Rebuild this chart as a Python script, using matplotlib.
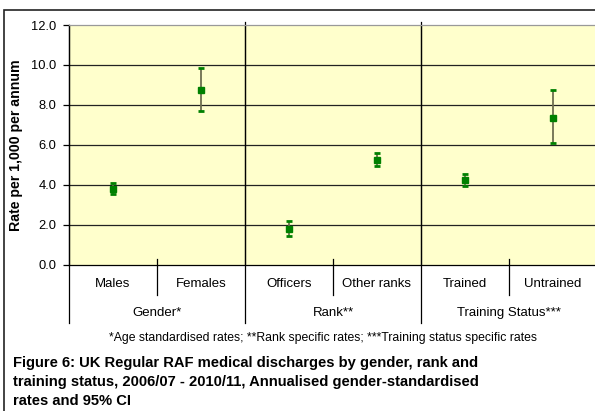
import numpy as np
import matplotlib.pyplot as plt
from matplotlib.patches import Rectangle

plt.rcParams['font.family'] = ['Liberation Sans', 'DejaVu Sans']

# data
categories = ['Males', 'Females', 'Officers', 'Other ranks', 'Trained', 'Untrained']
groups = ['Gender*', 'Rank**', 'Training Status***']
rates = [3.80, 8.73, 1.79, 5.25, 4.25, 7.34]
ci_low = [3.55, 7.72, 1.46, 4.92, 3.95, 6.09]
ci_high = [4.10, 9.86, 2.19, 5.60, 4.55, 8.75]
y_ticks = [0, 2, 4, 6, 8, 10, 12]

W, H = 595, 411
fig = plt.figure(figsize=(W / 100, H / 100), dpi=100)

# plot area in pixels
left, right, top, bottom = 69, 597, 25, 264.8
ax = fig.add_axes([left / W, 1 - bottom / H, (right - left) / W, (bottom - top) / H])
ax.set_facecolor('#FFFFCC')

x = np.arange(len(categories)) + 0.5
rates = np.array(rates)
yerr = [rates - np.array(ci_low), np.array(ci_high) - rates]

ax.set_xlim(0, 6)
ax.set_ylim(0, 12)
for v in y_ticks[1:-1]:
    ax.axhline(v, color='#222222', lw=0.9, zorder=1)
for gx in [2, 4]:
    ax.axvline(gx, color='#222222', lw=0.9, zorder=1)

line, caps, bars = ax.errorbar(x, rates, yerr=yerr, fmt='s', color='#008000',
                               ms=3.8, ecolor='#6e6e50', elinewidth=1.3,
                               capsize=2.3, capthick=2, zorder=3)
for c in caps:
    c.set_markeredgecolor('#008000')
    c.set_markerfacecolor('#008000')

ax.set_yticks(y_ticks)
ax.set_yticklabels(['%.1f' % v for v in y_ticks], fontsize=9.3)
ax.set_xticks([])
ax.tick_params(axis='y', length=4, width=0.9, color='black', pad=5)
ax.spines['left'].set_color('black')
ax.spines['bottom'].set_color('black')
ax.spines['top'].set_color('#999999')
ax.spines['right'].set_visible(False)
for s in ax.spines.values():
    s.set_linewidth(0.9)

ax.set_ylabel('Rate per 1,000 per annum', fontsize=10.2, fontweight='bold')
ax.yaxis.set_label_coords((23 - left) / (right - left), 0.5)

# category axis below the plot
h = bottom - top
def ay(px):
    return (bottom - px) / h

tr = ax.get_xaxis_transform()
for cx in [1, 3, 5]:
    ax.plot([cx, cx], [ay(259), ay(295)], transform=tr, color='black', lw=0.9, clip_on=False)
for gx in [0, 2, 4]:
    ax.plot([gx, gx], [ay(22) if gx else 1, ay(323)], transform=tr, color='black', lw=0.9, clip_on=False)
for xi, name in zip(x, categories):
    ax.text(xi, ay(284), name, transform=tr, ha='center', va='center', fontsize=9.5)
for i, g in enumerate(groups):
    ax.text(2 * i + 1, ay(313), g, transform=tr, ha='center', va='center', fontsize=9.5)

fig.text(323 / W, 1 - 338 / H,
         '*Age standardised rates; **Rank specific rates; ***Training status specific rates',
         ha='center', va='center', fontsize=8.8)

caption = ['Figure 6: UK Regular RAF medical discharges by gender, rank and',
           'training status, 2006/07 - 2010/11, Annualised gender-standardised',
           'rates and 95% CI']
for i, ln in enumerate(caption):
    fig.text(13 / W, 1 - (363 + 19 * i) / H, ln, ha='left', va='center',
             fontsize=10.6, fontweight='bold')

# outer frame
fig.patches.append(Rectangle((4 / W, -0.1), 1.1, 1 - 10 / H + 0.1, transform=fig.transFigure,
                             fill=False, edgecolor='#222222', lw=1.2))

fig.savefig('out.png', dpi=100)
